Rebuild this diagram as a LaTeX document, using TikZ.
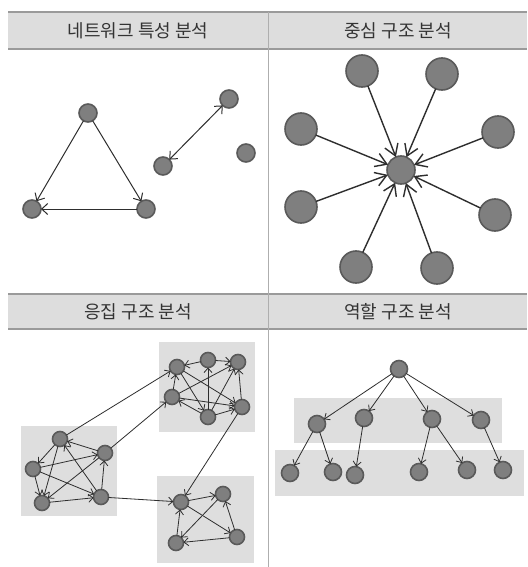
\documentclass[tikz,border=0pt]{standalone}
\usepackage{fontspec}
\setmainfont{Noto Sans CJK KR}
\usetikzlibrary{arrows.meta}
\definecolor{hdrfill}{HTML}{DDDDDD}
\definecolor{hdrline}{HTML}{9A9A9A}
\definecolor{boxfill}{HTML}{DEDEDE}
\definecolor{ndfill}{HTML}{7F7F7F}
\definecolor{ndline}{HTML}{5A5A5A}
\definecolor{edgec}{HTML}{2E2E2E}
\definecolor{txt}{HTML}{333333}
\begin{document}
\begin{tikzpicture}[x=1pt,y=-1pt,
  title/.style={text=txt,font=\fontsize{18}{21}\selectfont,inner sep=0pt},
  nd/.style={circle,fill=ndfill,draw=ndline,line width=1.6pt,inner sep=0pt,outer sep=0pt,minimum size=#1},
  nd/.default=18pt,
  arr/.style={draw=edgec,line width=1pt,-{Straight Barb[length=6pt,width=11pt]}},
  barr/.style={draw=edgec,line width=1pt,{Straight Barb[length=6pt,width=11pt]}-{Straight Barb[length=6pt,width=11pt]}},
  sarr/.style={draw=edgec,line width=0.8pt,-{Straight Barb[length=4.5pt,width=8pt]}},
  starr/.style={draw=edgec,line width=1.4pt,-{Straight Barb[length=11pt,width=14pt]}},
  grpbox/.style={fill=boxfill,draw=none}]
\useasboundingbox (0,0) rectangle (527,567);
\fill[white] (0,0) rectangle (527,567);
% headers
\fill[hdrfill] (8,12) rectangle (527,49);
\draw[hdrline,line width=1.2pt] (8,12) -- (527,12) (8,49) -- (527,49);
\fill[hdrfill] (8,294) rectangle (527,329);
\draw[hdrline,line width=1.2pt] (8,294) -- (527,294) (8,329) -- (527,329);
\draw[hdrline!80,line width=1pt] (268,12) -- (268,567);
\node[title] (t1) at (138,30.5) {네트워크 특성 분석};
\node[title] (t2) at (398,30.5) {중심 구조 분석};
\node[title] (t3) at (138,311.5) {응집 구조 분석};
\node[title] (t4) at (398,311.5) {역할 구조 분석};
% panel 1
\node[nd=18pt] (a1) at (88,113) {};
\node[nd=18pt] (a2) at (32,209) {};
\node[nd=18pt] (a3) at (146,209) {};
\node[nd=18pt] (a4) at (229,99) {};
\node[nd=18pt] (a5) at (163,166) {};
\node[nd=18pt] (a6) at (246,153) {};
\draw[arr] (a1) -- (a2);
\draw[arr] (a1) -- (a3);
\draw[arr] (a3) -- (a2);
\draw[barr] (a5) -- (a4);
% panel 2
\node[nd=28pt] (c0) at (401,170) {};
\foreach \n/\x/\y in {1/362/71,2/442/74,3/301/129,4/498/132,5/301/207,6/495/215,7/356/267,8/437/268}{
  \node[nd=32pt] (c\n) at (\x,\y) {};
  \draw[starr] (c\n) -- (c0);
}
% panel 3 boxes
\fill[grpbox] (21,426) rectangle (117,516);
\fill[grpbox] (159,342) rectangle (255,432);
\fill[grpbox] (157,476) rectangle (254,563);
% top-right cluster
\node[nd=15pt] (n1) at (177,367) {};
\node[nd=15pt] (n2) at (208,360) {};
\node[nd=15pt] (n3) at (238,362) {};
\node[nd=15pt] (n4) at (172,397) {};
\node[nd=15pt] (n5) at (242,407) {};
\node[nd=15pt] (n6) at (208,417) {};
% left cluster
\node[nd=15pt] (l1) at (60,439) {};
\node[nd=15pt] (l2) at (33,469) {};
\node[nd=15pt] (l3) at (105,453) {};
\node[nd=15pt] (l4) at (42,503) {};
\node[nd=15pt] (l5) at (101,497) {};
% bottom cluster
\node[nd=15pt] (b1) at (181,502) {};
\node[nd=15pt] (b2) at (223,494) {};
\node[nd=15pt] (b3) at (237,537) {};
\node[nd=15pt] (b4) at (176,543) {};
\foreach \s/\t in {n2/n1,n2/n3,n6/n2,n4/n3,n6/n3,n5/n3,n1/n5,n1/n6,n4/n1,n4/n5,n6/n4,n6/n5,
  l1/l2,l2/l4,l1/l4,l2/l3,l3/l1,l5/l1,l2/l5,l3/l4,l4/l5,l5/l3,
  b1/b2,b2/b4,b1/b3,b3/b2,b3/b4,b4/b1,
  l1/n1,l3/n4,l5/b1,n5/b1}{
  \draw[sarr] (\s) -- (\t);
}
% panel 4
\fill[grpbox] (294,398) rectangle (502,443);
\fill[grpbox] (275,450) rectangle (524,496);
\node[nd=17pt] (r0) at (399,369) {};
\node[nd=17pt] (m1) at (317,424) {};
\node[nd=17pt] (m2) at (364,418) {};
\node[nd=17pt] (m3) at (432,419) {};
\node[nd=17pt] (m4) at (481,420) {};
\node[nd=17pt] (f1) at (290,473) {};
\node[nd=17pt] (f2) at (333,472) {};
\node[nd=17pt] (f3) at (355,475) {};
\node[nd=17pt] (f4) at (419,472) {};
\node[nd=17pt] (f5) at (467,470) {};
\node[nd=17pt] (f6) at (503,470) {};
\foreach \s/\t in {r0/m1,r0/m2,r0/m3,r0/m4,m1/f1,m1/f2,m2/f3,m3/f4,m3/f5,m4/f6}{
  \draw[sarr] (\s) -- (\t);
}
\end{tikzpicture}
\end{document}
